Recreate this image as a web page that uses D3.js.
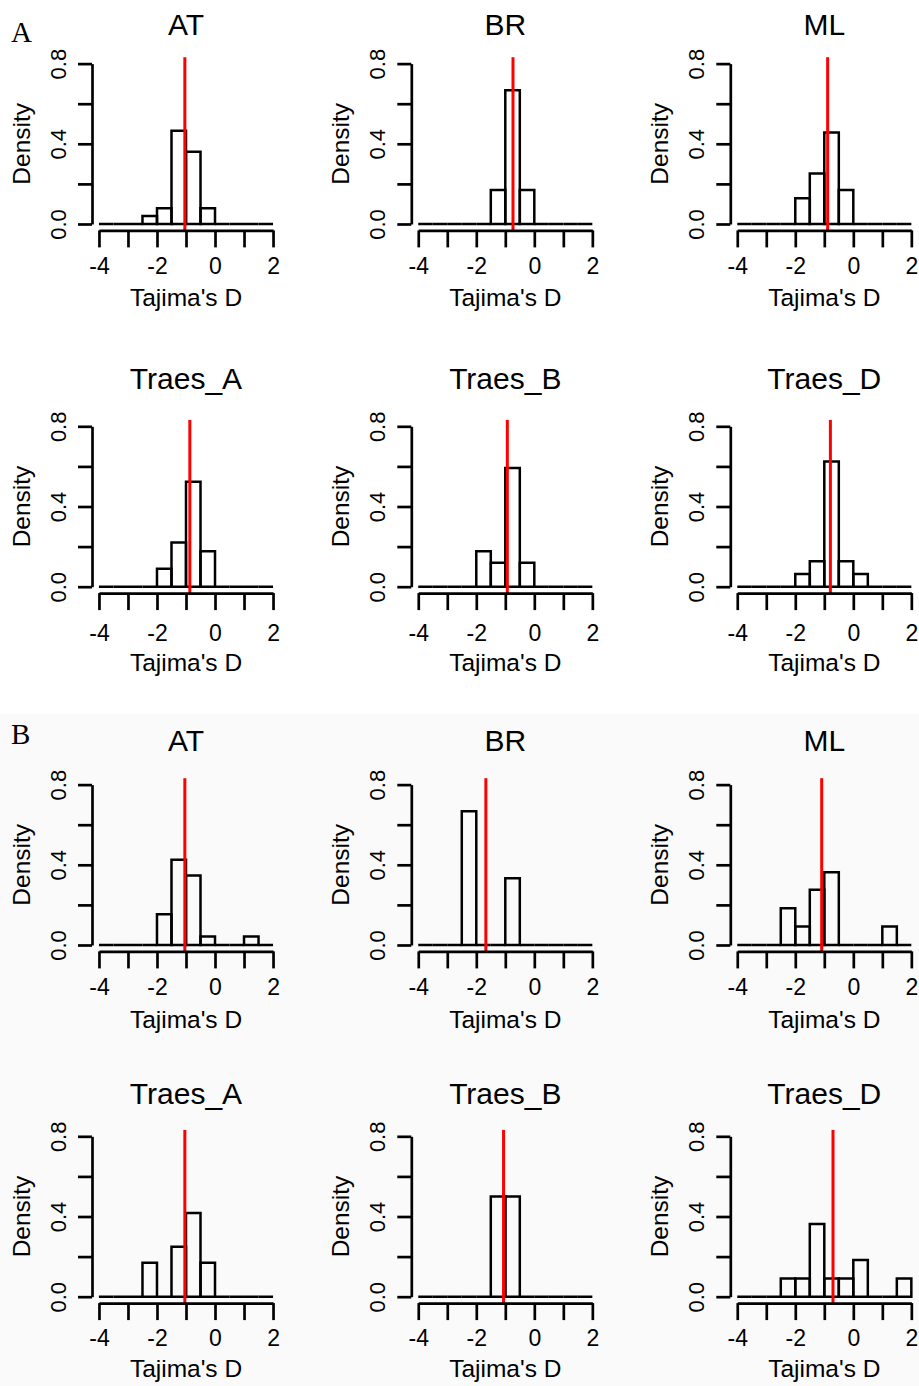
<!DOCTYPE html>
<html>
<head>
<meta charset="utf-8">
<script src="https://cdn.jsdelivr.net/npm/d3@7"></script>
<style>
  body { margin: 0; background: #fff; }
  svg { display: block; }
</style>
</head>
<body>
<svg id="canvas"></svg>
<script>
// Bin edges shared by every histogram (width 0.5)
const binEdges = [-4, -3.5, -3, -2.5, -2, -1.5, -1, -0.5, 0, 0.5, 1, 1.5, 2];
const xTicks = [-4, -3, -2, -1, 0, 1, 2];
const xTickLabels = ["-4", "", "-2", "", "0", "", "2"];
const yTicks = [0, 0.2, 0.4, 0.6, 0.8];
const yTickLabels = ["0.0", "", "0.4", "", "0.8"];

const panelTitles = ["AT", "BR", "ML", "Traes_A", "Traes_B", "Traes_D"];
const sectionLabels = ["A", "B"];

// Density of each bin
const densA_AT     = [0, 0, 0, 0.04, 0.078, 0.465, 0.36, 0.078, 0, 0, 0, 0];
const densA_BR     = [0, 0, 0, 0, 0, 0.17, 0.667, 0.17, 0, 0, 0, 0];
const densA_ML     = [0, 0, 0, 0, 0.128, 0.252, 0.456, 0.17, 0, 0, 0, 0];
const densA_TraesA = [0, 0, 0, 0, 0.09, 0.22, 0.523, 0.177, 0, 0, 0, 0];
const densA_TraesB = [0, 0, 0, 0, 0.177, 0.12, 0.592, 0.12, 0, 0, 0, 0];
const densA_TraesD = [0, 0, 0, 0, 0.063, 0.127, 0.625, 0.127, 0.063, 0, 0, 0];
const densB_AT     = [0, 0, 0, 0, 0.153, 0.425, 0.347, 0.042, 0, 0, 0.042, 0];
const densB_BR     = [0, 0, 0, 0.667, 0, 0, 0.333, 0, 0, 0, 0, 0];
const densB_ML     = [0, 0, 0, 0.183, 0.092, 0.275, 0.363, 0, 0, 0, 0.092, 0];
const densB_TraesA = [0, 0, 0, 0.169, 0, 0.249, 0.418, 0.169, 0, 0, 0, 0];
const densB_TraesB = [0, 0, 0, 0, 0, 0.5, 0.5, 0, 0, 0, 0, 0];
const densB_TraesD = [0, 0, 0, 0.091, 0.091, 0.362, 0.091, 0.091, 0.183, 0, 0, 0.091];

// Mean Tajima's D (red line) per panel
const meanA = [-1.04, -0.735, -0.885, -0.868, -0.93, -0.79];
const meanB = [-1.04, -1.67, -1.09, -1.04, -1.06, -0.70];

const densA = [densA_AT, densA_BR, densA_ML, densA_TraesA, densA_TraesB, densA_TraesD];
const densB = [densB_AT, densB_BR, densB_ML, densB_TraesA, densB_TraesB, densB_TraesD];

// Layout
const svgWidth = 919;
const svgHeight = 1386;
const colLeft = [92, 411.3, 730.3];
const plotW = 188;
const plotH = 173.2;
// per row: plot top, title centre, tick label centre, x label centre
const rowTop = [57.2, 419.9, 778.2, 1129.9];
const rowTitle = [24, 378, 740, 1093];
const rowTickLab = [265.5, 633, 987, 1338];
const rowXLab = [297, 662, 1019, 1368];

const font = "'Liberation Sans', Arial, Helvetica, sans-serif";

const canvas = d3.select("#canvas")
                 .attr("width", svgWidth)
                 .attr("height", svgHeight);

// very light grey behind section B
canvas.append("rect")
      .attr("x", 0).attr("y", 714)
      .attr("width", svgWidth).attr("height", svgHeight - 714)
      .attr("fill", "#fafafa");

const plotPanel = (row, col, title, dens, mean) => {
   const left = colLeft[col];
   const top = rowTop[row];
   const g = canvas.append("g");

   // R style plot region: limits extended 4%
   const x = d3.scaleLinear().domain([-4.24, 2.24]).range([left, left + plotW]);
   const y = d3.scaleLinear().domain([-0.032, 0.832]).range([top + plotH, top]);

   // Histogram bars, empty bins drawn as flat outlines
   const bins = dens.map((d, i) => ({ x0: binEdges[i], x1: binEdges[i + 1], d: d }));
   g.selectAll("path.bar")
    .data(bins)
    .enter()
    .append("path")
    .attr("class", "bar")
    .attr("d", (b) => `M${x(b.x0)},${y(0)}V${y(b.d)}H${x(b.x1)}V${y(0)}Z`)
    .attr("fill", "none")
    .attr("stroke", "#000")
    .attr("stroke-width", 2.5);

   // Mean line
   g.append("line")
    .attr("x1", x(mean)).attr("x2", x(mean))
    .attr("y1", y(-0.032)).attr("y2", y(0.832))
    .attr("stroke", "#ff0000")
    .attr("stroke-width", 3);

   // x axis, only spans first to last tick
   const xAxisScale = d3.scaleLinear().domain([-4, 2]).range([x(-4), x(2)]);
   const xAxis = d3.axisBottom(xAxisScale)
                   .tickValues(xTicks)
                   .tickSize(17)
                   .tickSizeOuter(0)
                   .tickFormat((d, i) => xTickLabels[i]);
   const gx = g.append("g")
               .attr("transform", `translate(0, ${y(-0.032)})`)
               .call(xAxis);
   gx.selectAll("path, line").attr("stroke", "#000").attr("stroke-width", 2.7);
   gx.selectAll("text")
     .attr("y", rowTickLab[row] - y(-0.032))
     .attr("dy", "0.35em")
     .attr("fill", "#000")
     .style("font-family", font)
     .style("font-size", "23px");

   // y axis
   const yAxisScale = d3.scaleLinear().domain([0, 0.8]).range([y(0), y(0.8)]);
   const yAxis = d3.axisLeft(yAxisScale)
                   .tickValues(yTicks)
                   .tickSize(14)
                   .tickSizeOuter(0)
                   .tickFormat((d, i) => yTickLabels[i]);
   const gy = g.append("g")
               .attr("transform", `translate(${x(-4.24)}, 0)`)
               .call(yAxis);
   gy.selectAll("path, line").attr("stroke", "#000").attr("stroke-width", 2.7);
   gy.selectAll("text")
     .attr("x", 0).attr("y", 0).attr("dy", "0.35em")
     .attr("text-anchor", "middle")
     .attr("transform", "translate(-34,0) rotate(-90)")
     .attr("fill", "#000")
     .style("font-family", font)
     .style("font-size", "22px");

   // Title and axis labels
   g.append("text")
    .attr("x", x(-1)).attr("y", rowTitle[row]).attr("dy", "0.35em")
    .attr("text-anchor", "middle")
    .style("font-family", font).style("font-size", "30px")
    .text(title);
   g.append("text")
    .attr("x", x(-1)).attr("y", rowXLab[row]).attr("dy", "0.35em")
    .attr("text-anchor", "middle")
    .style("font-family", font).style("font-size", "24.5px")
    .text("Tajima's D");
   g.append("text")
    .attr("transform", `translate(${x(-4.24) - 71}, ${top + plotH / 2}) rotate(-90)`)
    .attr("dy", "0.35em")
    .attr("text-anchor", "middle")
    .style("font-family", font).style("font-size", "24.5px")
    .text("Density");
};

panelTitles.forEach((t, i) => {
   plotPanel(Math.floor(i / 3), i % 3, t, densA[i], meanA[i]);
   plotPanel(2 + Math.floor(i / 3), i % 3, t, densB[i], meanB[i]);
});

// Section letters
canvas.selectAll("text.section")
      .data(sectionLabels)
      .enter()
      .append("text")
      .attr("class", "section")
      .attr("x", 11)
      .attr("y", (d, i) => i === 0 ? 42 : 744)
      .style("font-family", "'Liberation Serif', 'Times New Roman', serif")
      .style("font-size", "29px")
      .text((d) => d);
</script>
</body>
</html>
